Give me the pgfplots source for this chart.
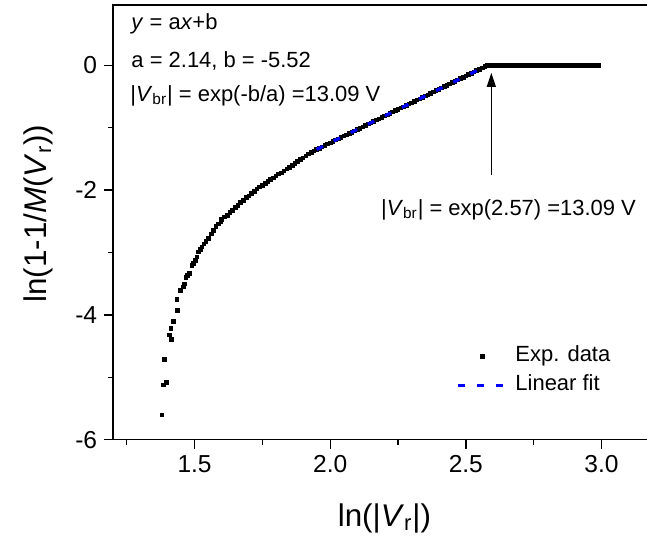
\documentclass[border=0pt]{standalone}
\usepackage{pgfplots}
\pgfplotsset{compat=1.18}
\usepackage{pgfplotstable}
\usepackage{fontspec}
\setmainfont{Liberation Sans}
\usetikzlibrary{arrows.meta}

\pgfplotsset{
  explegend/.style={legend image code/.code={\draw[##1, mark repeat=2, mark phase=2] plot coordinates {(0bp,0bp) (12.25bp,0bp) (24.5bp,0bp)};}},
  fitlegend/.style={legend image code/.code={\draw[##1] (0bp,0bp) -- (24.5bp,0bp);}},
}

\pgfplotstableread{
x y
1.379 -5.60
1.384 -5.12
1.397 -5.08
1.388 -4.71
1.407 -4.32
1.414 -4.39
1.413 -4.22
1.422 -4.10
1.437 -3.93
1.435 -3.75
1.447 -3.61
1.458 -3.55
1.462 -3.50
1.468 -3.40
1.474 -3.37
1.480 -3.33
1.490 -3.21
1.496 -3.17
1.503 -3.13
1.509 -3.07
1.515 -2.99
1.521 -2.95
1.527 -2.91
1.535 -2.86
1.542 -2.82
1.550 -2.77
1.561 -2.70
1.570 -2.64
1.579 -2.58
1.588 -2.54
1.597 -2.50
1.60 -2.47
1.61 -2.43
1.62 -2.40
1.63 -2.36
1.64 -2.32
1.65 -2.28
1.66 -2.24
1.67 -2.20
1.68 -2.16
1.69 -2.12
1.70 -2.09
1.71 -2.05
1.72 -2.02
1.73 -1.98
1.74 -1.95
1.75 -1.92
1.76 -1.89
1.77 -1.86
1.78 -1.83
1.79 -1.80
1.80 -1.77
1.81 -1.74
1.82 -1.72
1.83 -1.69
1.84 -1.66
1.85 -1.63
1.86 -1.60
1.87 -1.57
1.88 -1.54
1.89 -1.51
1.90 -1.48
1.91 -1.45
1.92 -1.42
1.93 -1.39
1.94 -1.37
1.95 -1.35
1.96 -1.326
1.97 -1.304
1.98 -1.283
1.99 -1.261
2.00 -1.240
2.01 -1.219
2.02 -1.197
2.03 -1.176
2.04 -1.154
2.05 -1.133
2.06 -1.112
2.07 -1.090
2.08 -1.069
2.09 -1.047
2.10 -1.026
2.11 -1.005
2.12 -0.983
2.13 -0.962
2.14 -0.940
2.15 -0.919
2.16 -0.898
2.17 -0.876
2.18 -0.855
2.19 -0.833
2.20 -0.812
2.21 -0.791
2.22 -0.769
2.23 -0.748
2.24 -0.726
2.25 -0.705
2.26 -0.684
2.27 -0.662
2.28 -0.641
2.29 -0.619
2.30 -0.598
2.31 -0.577
2.32 -0.555
2.33 -0.534
2.34 -0.512
2.35 -0.491
2.36 -0.470
2.37 -0.448
2.38 -0.427
2.39 -0.405
2.40 -0.384
2.41 -0.363
2.42 -0.341
2.43 -0.320
2.44 -0.298
2.45 -0.277
2.46 -0.256
2.47 -0.234
2.48 -0.213
2.49 -0.191
2.50 -0.170
2.51 -0.149
2.52 -0.127
2.53 -0.106
2.54 -0.084
2.55 -0.063
2.56 -0.042
2.57 -0.020
2.575 -0.008
2.58 0
2.59 0
2.60 0
2.61 0
2.62 0
2.63 0
2.64 0
2.65 0
2.66 0
2.67 0
2.68 0
2.69 0
2.70 0
2.71 0
2.72 0
2.73 0
2.74 0
2.75 0
2.76 0
2.77 0
2.78 0
2.79 0
2.80 0
2.81 0
2.82 0
2.83 0
2.84 0
2.85 0
2.86 0
2.87 0
2.88 0
2.89 0
2.90 0
2.91 0
2.92 0
2.93 0
2.94 0
2.95 0
2.96 0
2.97 0
2.98 0
2.99 0
}\expdata

\begin{document}
\begin{tikzpicture}
\begin{axis}[
  name=ax,
  scale only axis,
  width=270.8bp, height=217bp,
  xmin=1.2, xmax=3.2, ymin=-6, ymax=0.968,
  clip marker paths=true,
  xtick={1.5,2.0,2.5,3.0}, xticklabels={1.5,2.0,2.5,3.0},
  ytick={-6,-4,-2,0}, yticklabels={-6,-4,-2,0},
  minor xtick={1.25,1.75,2.25,2.75},
  minor ytick={-5,-3,-1},
  tick pos=left, tick align=outside,
  major tick length=4.5bp, minor tick length=2.5bp,
  every tick/.style={black, line width=0.7bp},
  axis line style={line width=0.7bp},
  tick label style={font=\fontsize{12.3}{14}\selectfont},
  xlabel={ln(|\textit{V}\textsubscript{r}|)},
  ylabel={ln(1-1/\textit{M}(\textit{V}\textsubscript{r}))},
  label style={font=\fontsize{15.7}{18}\selectfont},
  xlabel style={at={(axis description cs:0.5,-0.1995)}, anchor=base},
  ylabel style={at={(axis description cs:-0.1224,0.52)}, anchor=base},
  legend style={at={(axis cs:2.463,-4.485)}, anchor=north west, draw=none, fill=none,
    inner sep=0pt, font=\fontsize{11}{13}\selectfont, row sep=4bp,
    nodes={inner xsep=3.5bp, inner ysep=0pt, text height=8bp, text depth=2.5bp}},
  legend cell align=left,
]
\addplot[only marks, mark=square*, mark size=0.9bp, black, explegend]
  table {\expdata};
\addlegendentry{Exp. data}
\addplot[blue, line width=1.6bp, dash pattern=on 3.5bp off 6bp, fitlegend]
  coordinates {(1.95,-1.347) (2.575,-0.0095)};
\addlegendentry{Linear fit}

\node[anchor=base west, inner sep=0pt, font=\fontsize{11}{13}\selectfont] at (axis cs:1.266,0.583) {\textit{y} = a\textit{x}+b};
\node[anchor=base west, inner sep=0pt, font=\fontsize{11}{13}\selectfont] at (axis cs:1.266,-0.027) {a = 2.14, b = -5.52};
\node[anchor=base west, inner sep=0pt, font=\fontsize{11}{13}\selectfont] at (axis cs:1.262,-0.573) {|\textit{V}\textsubscript{br}| = exp(-b/a) =13.09 V};
\node[anchor=base west, inner sep=0pt, font=\fontsize{11}{13}\selectfont] at (axis cs:2.186,-2.40) {|\textit{V}\textsubscript{br}| = exp(2.57) =13.09 V};
\draw[-{Triangle[width=4.5bp,length=7bp]}, line width=0.55bp] (axis cs:2.594,-1.76) -- (axis cs:2.594,-0.12);
\end{axis}
\pgfresetboundingbox
\path ([xshift=-56.5bp,yshift=-50bp]ax.south west) rectangle ([xshift=-4.35bp,yshift=2.5bp]ax.north east);
\end{tikzpicture}
\end{document}
